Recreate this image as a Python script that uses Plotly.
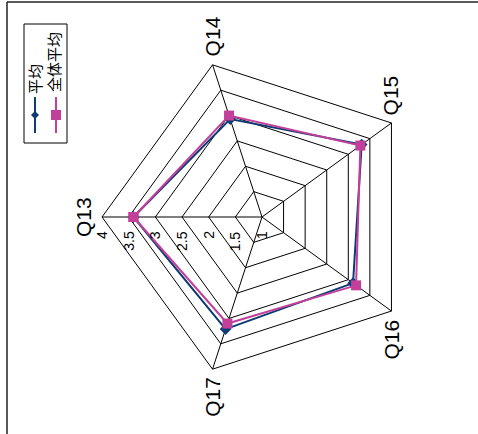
import math
import plotly.graph_objects as go

W, H = 478, 434

categories = ["Q13", "Q14", "Q15", "Q16", "Q17"]
avg_values = [3.41, 2.93, 3.31, 3.11, 3.21]       # 平均
overall_values = [3.41, 3.00, 3.28, 3.18, 3.10]   # 全体平均
series_names = ["平均", "全体平均"]
radial_ticks = [1, 1.5, 2, 2.5, 3, 3.5, 4]
radial_labels = ["1", "1.5", "2", "2.5", "3", "3.5", "4"]

BLUE = "#0D3B74"
PINK = "#C2409A"

# polar geometry (pixels)
CX, CY, R = 262, 217, 160
RMIN, RMAX = 1, 4

def px(x):
    return x / W

def py(y):
    return 1 - y / H

fig = go.Figure()
fig.add_trace(go.Scatterpolar(
    r=avg_values + avg_values[:1], theta=categories + categories[:1],
    mode="lines+markers", name=series_names[0],
    line=dict(color=BLUE, width=2),
    marker=dict(symbol="diamond", size=9, color=BLUE),
    showlegend=False,
))
fig.add_trace(go.Scatterpolar(
    r=overall_values + overall_values[:1], theta=categories + categories[:1],
    mode="lines+markers", name=series_names[1],
    line=dict(color=PINK, width=2),
    marker=dict(symbol="square", size=10, color=PINK),
    showlegend=False,
))

fig.update_layout(
    width=W, height=H,
    margin=dict(l=0, r=0, t=0, b=0),
    paper_bgcolor="white",
    font=dict(family="Liberation Sans, Arial, sans-serif", color="black"),
    polar=dict(
        domain=dict(x=[px(CX - R), px(CX + R)], y=[py(CY + R), py(CY - R)]),
        bgcolor="white",
        gridshape="linear",
        angularaxis=dict(
            categoryorder="array", categoryarray=categories,
            rotation=180, direction="clockwise",
            showline=True, linecolor="black", linewidth=1,
            showgrid=True, gridcolor="black", gridwidth=1,
            ticks="", showticklabels=False,
        ),
        radialaxis=dict(
            range=[RMIN, RMAX], angle=180,
            tickvals=radial_ticks,
            showline=False, ticks="", showticklabels=False,
            showgrid=True, gridcolor="black", gridwidth=1,
        ),
    ),
)

# radial tick labels, rotated, below the Q13 spoke
for v, lab in zip(radial_ticks, radial_labels):
    lx = CX - (v - RMIN) / (RMAX - RMIN) * R
    fig.add_annotation(x=px(lx), y=py(CY + 12), xref="paper", yref="paper",
                       text=lab, showarrow=False, textangle=-90,
                       xanchor="center", yanchor="top",
                       font=dict(size=14))

# category labels, rotated like the reference
gap = 8
for i, cat in enumerate(categories):
    ang = math.radians(180 - 72 * i)
    vx = CX + R * math.cos(ang)
    vy = CY - R * math.sin(ang)
    if abs(math.cos(ang)) > 0.9:
        lx, ly = vx - gap - 11 * (1 if math.cos(ang) < 0 else -1), vy
    else:
        lx = vx
        ly = vy - (gap + 20) if math.sin(ang) > 0 else vy + (gap + 20)
    fig.add_annotation(x=px(lx), y=py(ly), xref="paper", yref="paper",
                       text=cat, showarrow=False, textangle=-90,
                       xanchor="center", yanchor="middle",
                       font=dict(size=21))

# legend (rotated)
shapes = [
    dict(type="rect", xref="paper", yref="paper", x0=px(24), x1=px(67), y0=py(143), y1=py(24),
         line=dict(color="black", width=1), fillcolor="white"),
    dict(type="line", xref="paper", yref="paper", x0=px(35), x1=px(35), y0=py(97), y1=py(133),
         line=dict(color=BLUE, width=2)),
    dict(type="path", xref="paper", yref="paper",
         path=f"M {px(35)} {py(111)} L {px(39)} {py(115)} L {px(35)} {py(119)} L {px(31)} {py(115)} Z",
         fillcolor=BLUE, line=dict(color=BLUE, width=0)),
    dict(type="line", xref="paper", yref="paper", x0=px(56), x1=px(56), y0=py(97), y1=py(133),
         line=dict(color=PINK, width=2)),
    dict(type="rect", xref="paper", yref="paper", x0=px(51), x1=px(61), y0=py(120), y1=py(110),
         fillcolor=PINK, line=dict(color=PINK, width=0)),
    # outer frame lines
    dict(type="line", xref="paper", yref="paper", x0=px(7), x1=1, y0=py(2), y1=py(2),
         line=dict(color="#222", width=1.5)),
    dict(type="line", xref="paper", yref="paper", x0=px(7), x1=px(7), y0=py(2), y1=0,
         line=dict(color="#222", width=1.5)),
]
fig.update_layout(shapes=shapes)
legend_pos = [(35, 79), (54, 62)]
for name, (lx, ly) in zip(series_names, legend_pos):
    fig.add_annotation(x=px(lx), y=py(ly), xref="paper", yref="paper",
                       text=name, showarrow=False, textangle=-90,
                       xanchor="center", yanchor="middle",
                       font=dict(size=15, family="Noto Sans CJK SC"))

fig.write_html(
    "out.html",
    config={"displayModeBar": False},
    post_script="document.body.style.margin='0';document.body.style.overflow='hidden';",
)
